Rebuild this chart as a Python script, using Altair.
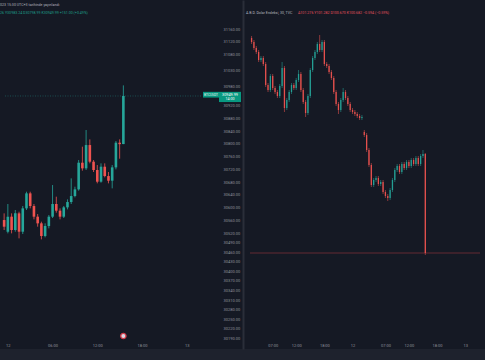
import altair as alt
import pandas as pd

# ---------------- data ----------------
# Left panel: BTCUSDT 30-minute candles, 11 Jul 23:30 -> 12 Jul 15:30 (hours from 12 Jul 00:00)
btc_first_hour = -0.5
bar_step = 0.5
btc_open = [30561.1, 30524.5, 30571.6, 30529.8, 30582.0, 30524.5, 30597.7, 30644.7, 30605.0, 30571.6,
            30550.7, 30510.9, 30542.3, 30571.6, 30611.3, 30590.4, 30571.6, 30600.8, 30617.5, 30636.3,
            30657.2, 30740.8, 30723.1, 30796.2, 30744.0, 30717.9, 30681.3, 30728.3, 30699.0, 30684.4,
            30726.2, 30803.5, 30799.26]
btc_high = [30582.0, 30611.3, 30582.0, 30592.5, 30587.2, 30605.0, 30649.9, 30649.9, 30611.3, 30579.9,
            30555.9, 30550.7, 30576.8, 30670.8, 30634.3, 30597.7, 30605.0, 30625.9, 30691.7, 30665.6,
            30749.2, 30791.0, 30843.3, 30814.0, 30749.2, 30733.5, 30738.8, 30738.8, 30711.6, 30733.5,
            30808.8, 30814.0, 30983.24]
btc_low = [30529.8, 30519.3, 30519.3, 30524.5, 30503.6, 30517.2, 30592.5, 30597.7, 30563.2, 30540.2,
           30500.5, 30506.8, 30535.0, 30567.4, 30584.1, 30563.2, 30567.4, 30594.5, 30611.3, 30632.2,
           30653.1, 30715.8, 30717.9, 30738.8, 30711.6, 30676.1, 30678.1, 30694.9, 30676.1, 30660.4,
           30719.9, 30753.4, 30798.99]
btc_close = [30540.2, 30571.6, 30529.8, 30582.0, 30524.5, 30597.7, 30644.7, 30605.0, 30571.6, 30550.7,
             30510.9, 30542.3, 30571.6, 30611.3, 30590.4, 30571.6, 30600.8, 30617.5, 30636.3, 30657.2,
             30740.8, 30723.1, 30796.2, 30744.0, 30717.9, 30681.3, 30728.3, 30699.0, 30684.4, 30726.2,
             30803.5, 30798.99, 30949.99]

# Right panel: US Dollar Index 30-minute candles, 11 Jul 02:30 -> 12 Jul 15:30
dxy_first_hour = -21.5
dxy_open = [101.972, 101.948, 101.912, 101.888, 101.840, 101.852, 101.816, 101.690, 101.660, 101.744,
            101.672, 101.648, 101.624, 101.684, 101.792, 101.552, 101.600, 101.648, 101.690, 101.672,
            101.720, 101.756, 101.660, 101.588, 101.522, 101.624, 101.780, 101.852, 101.888, 101.936,
            101.900, 101.948, 101.816, 101.804, 101.768, 101.732, 101.648, 101.576, 101.540, 101.600,
            101.648, 101.612, 101.576, 101.540, 101.528, 101.516, 101.504, 101.492, 101.408, 101.390,
            101.300, 101.210, 101.090, 101.120, 101.132, 101.096, 101.108, 101.048, 101.024, 101.012,
            101.060, 101.120, 101.180, 101.204, 101.168, 101.216, 101.192, 101.228, 101.204, 101.240,
            101.216, 101.252, 101.216, 101.264, 101.276]
dxy_high = [101.984, 101.960, 101.924, 101.900, 101.864, 101.864, 101.828, 101.702, 101.756, 101.756,
            101.684, 101.660, 101.696, 101.828, 101.804, 101.612, 101.660, 101.702, 101.702, 101.732,
            101.780, 101.768, 101.672, 101.600, 101.636, 101.792, 101.864, 101.900, 101.948, 101.990,
            101.960, 101.960, 101.828, 101.816, 101.780, 101.744, 101.660, 101.588, 101.612, 101.672,
            101.660, 101.624, 101.588, 101.552, 101.540, 101.528, 101.516, 101.510, 101.420, 101.402,
            101.312, 101.222, 101.132, 101.144, 101.144, 101.120, 101.120, 101.060, 101.036, 101.072,
            101.132, 101.192, 101.216, 101.216, 101.228, 101.228, 101.240, 101.240, 101.252, 101.252,
            101.264, 101.264, 101.276, 101.300, 101.282]
dxy_low = [101.936, 101.900, 101.876, 101.828, 101.828, 101.804, 101.678, 101.648, 101.648, 101.660,
           101.636, 101.612, 101.612, 101.672, 101.528, 101.540, 101.588, 101.636, 101.660, 101.660,
           101.708, 101.648, 101.576, 101.498, 101.510, 101.612, 101.768, 101.840, 101.876, 101.888,
           101.888, 101.804, 101.792, 101.756, 101.720, 101.636, 101.564, 101.516, 101.528, 101.588,
           101.600, 101.564, 101.528, 101.516, 101.504, 101.492, 101.480, 101.480, 101.378, 101.288,
           101.198, 101.078, 101.078, 101.108, 101.084, 101.084, 101.036, 101.012, 100.994, 101.000,
           101.048, 101.108, 101.168, 101.156, 101.156, 101.180, 101.180, 101.192, 101.192, 101.204,
           101.204, 101.204, 101.204, 101.252, 100.670]
dxy_close = [101.948, 101.912, 101.888, 101.840, 101.852, 101.816, 101.690, 101.660, 101.744, 101.672,
             101.648, 101.624, 101.684, 101.792, 101.552, 101.600, 101.648, 101.690, 101.672, 101.720,
             101.756, 101.660, 101.588, 101.522, 101.624, 101.780, 101.852, 101.888, 101.936, 101.900,
             101.948, 101.816, 101.804, 101.768, 101.732, 101.648, 101.576, 101.540, 101.600, 101.648,
             101.612, 101.576, 101.540, 101.528, 101.516, 101.504, 101.492, 101.498, 101.390, 101.300,
             101.210, 101.090, 101.120, 101.132, 101.096, 101.108, 101.048, 101.024, 101.012, 101.060,
             101.120, 101.180, 101.204, 101.168, 101.216, 101.192, 101.228, 101.204, 101.240, 101.216,
             101.252, 101.216, 101.264, 101.276, 100.682]

left_tick_values = [0, 6, 12, 18, 24]
left_tick_labels = ["12", "06:00", "12:00", "18:00", "13"]
right_tick_values = [-17, -12, -6, 0, 7, 12, 18, 24]
right_tick_labels = ["07:00", "12:00", "18:00", "12", "07:00", "12:00", "18:00", "13"]
price_ticks = [31160, 31120, 31080, 31030, 30980, 30920, 30880, 30840, 30800, 30760, 30720, 30680,
               30640, 30600, 30560, 30520, 30490, 30460, 30430, 30400, 30370, 30340, 30310, 30280,
               30250, 30220, 30190]

event_hours = [15.5]          # US CPI release marker
countdown = "14:00"
symbol_name = "BTCUSDT"

left_header_1 = "023 15:30 UTC+3 tarihinde yayınlandı"
left_header_2 = "26  Y30983.24  D30798.99  K30949.99  +151.00 (+0.49%)"
right_header_name = "A.B.D. Dolar Endeksi, 30, TVC"
right_header_vals = "A101.276  Y101.282  D100.670  K100.682  −0.594 (−0.59%)"

# ---------------- styling ----------------
BG = "#151924"
BAR_BG = "#1e222d"
UP = "#26a69a"
DOWN = "#ef5350"
TXT = "#8f929b"
FONT = "Roboto"


def frame(first, o, h, l, c):
    df = pd.DataFrame({"o": o, "h": h, "l": l, "c": c})
    df["t"] = [first + bar_step * i for i in range(len(df))]
    df["dir"] = ["up" if cc >= oo else "down" for oo, cc in zip(o, c)]
    return df


btc = frame(btc_first_hour, btc_open, btc_high, btc_low, btc_close)
dxy = frame(dxy_first_hour, dxy_open, dxy_high, dxy_low, dxy_close)


def label_expr(values, labels):
    parts = [f"datum.value == {v} ? '{s}'" for v, s in zip(values, labels)]
    return " : ".join(parts) + " : ''"


L_XDOM = [-0.383, 26.05]
R_XDOM = [-21.837, 27.143]
L_X = alt.Scale(domain=L_XDOM, range=[0, 207], zero=False, nice=False)
L_Y = alt.Scale(domain=[30190, 31160], range=[338.4, 29], zero=False, nice=False)
R_X = alt.Scale(domain=R_XDOM, range=[245, 485], zero=False, nice=False)
R_Y = alt.Scale(domain=[100.106, 102.2], range=[349, 0], zero=False, nice=False)

axis_common = dict(domain=False, ticks=False, grid=False, labelFontSize=4, labelColor=TXT,
                   labelFont=FONT, labelOverlap=False, labelFlush=False, title=None)
L_X_AXIS = alt.Axis(orient="bottom", offset=-11, values=left_tick_values,
                    labelExpr=label_expr(left_tick_values, left_tick_labels), labelPadding=5, **axis_common)
R_X_AXIS = alt.Axis(orient="bottom", offset=-11, values=right_tick_values,
                    labelExpr=label_expr(right_tick_values, right_tick_labels), labelPadding=5, **axis_common)
L_Y_AXIS = alt.Axis(orient="right", offset=-278, values=price_ticks, format=".2f",
                    labelPadding=16, labelAlign="left", **axis_common)
R_Y_AXIS = alt.Axis(orient="left", offset=-243, domain=True, domainColor="#2a2e39", domainWidth=2,
                    labels=False, ticks=False, grid=False, title=None)

dir_color = alt.Color("dir:N", scale=alt.Scale(domain=["up", "down"], range=[UP, DOWN]), legend=None)

# ---------- left panel ----------
xl = alt.X("t:Q", scale=L_X, axis=L_X_AXIS)
wicks_l = alt.Chart(btc).mark_rule(strokeWidth=0.8).encode(
    x=xl, y=alt.Y("l:Q", scale=L_Y, axis=L_Y_AXIS), y2="h:Q", color=dir_color)
bodies_l = alt.Chart(btc).mark_bar(size=2.6).encode(
    x=xl, y=alt.Y("o:Q", scale=L_Y, axis=L_Y_AXIS), y2="c:Q", color=dir_color)

last_btc = btc_close[-1]
lastL = pd.DataFrame({"t0": [L_XDOM[0]], "t1": [L_XDOM[1]], "p": [last_btc],
                      "ptop": [last_btc + 13], "pbot": [last_btc - 19], "pmid": [last_btc - 5],
                      "price": [f"{last_btc:.2f}"], "cd": [countdown], "sym": [symbol_name]})
price_line = alt.Chart(lastL).mark_rule(color=UP, strokeDash=[1, 1.5], strokeWidth=0.7, opacity=0.55).encode(
    x=alt.X("t0:Q", scale=L_X, axis=L_X_AXIS), x2="t1:Q", y=alt.Y("p:Q", scale=L_Y, axis=L_Y_AXIS))
sym_box = alt.Chart(lastL).mark_rect(color="#089981").encode(
    x=alt.value(203), x2=alt.value(219), y=alt.Y("ptop:Q", scale=L_Y, axis=L_Y_AXIS), y2="pmid:Q")
price_box = alt.Chart(lastL).mark_rect(color="#089981").encode(
    x=alt.value(219), x2=alt.value(241), y=alt.Y("ptop:Q", scale=L_Y, axis=L_Y_AXIS), y2="pbot:Q")
sym_txt = alt.Chart(lastL).mark_text(fontSize=3.2, color="#e8f5f2", font=FONT, dy=-1.0).encode(
    x=alt.value(211), y=alt.Y("p:Q", scale=L_Y, axis=L_Y_AXIS), text="sym:N")
price_txt = alt.Chart(lastL).mark_text(fontSize=3.8, color="#ffffff", font=FONT, dy=-1.2).encode(
    x=alt.value(230), y=alt.Y("p:Q", scale=L_Y, axis=L_Y_AXIS), text="price:N")
cd_txt = alt.Chart(lastL).mark_text(fontSize=3.6, color="#ffffff", font=FONT, dy=3.4).encode(
    x=alt.value(230), y=alt.Y("p:Q", scale=L_Y, axis=L_Y_AXIS), text="cd:N")

events = pd.DataFrame({"t": event_hours})
flag = alt.Chart(events).mark_point(filled=True, size=28, color="#d8dae6", stroke="#d23a48",
                                    strokeWidth=1.3, opacity=1).encode(
    x=alt.X("t:Q", scale=L_X, axis=L_X_AXIS), y=alt.value(336))

left = alt.layer(wicks_l, bodies_l, price_line, sym_box, price_box, sym_txt, price_txt, cd_txt, flag)

# ---------- right panel ----------
xr = alt.X("t:Q", scale=R_X, axis=R_X_AXIS)
wicks_r = alt.Chart(dxy).mark_rule(strokeWidth=0.6, opacity=0.9).encode(
    x=xr, y=alt.Y("l:Q", scale=R_Y, axis=R_Y_AXIS), y2="h:Q", color=dir_color)
bodies_r = alt.Chart(dxy).mark_bar(size=1.3, opacity=0.9).encode(
    x=xr, y=alt.Y("o:Q", scale=R_Y, axis=R_Y_AXIS), y2="c:Q", color=dir_color)
lastR = pd.DataFrame({"t0": [R_XDOM[0]], "t1": [R_XDOM[1]], "p": [dxy_close[-1]]})
last_line_r = alt.Chart(lastR).mark_rule(color="#7a2d37", strokeWidth=0.8).encode(
    x=alt.X("t0:Q", scale=R_X, axis=R_X_AXIS), x2="t1:Q", y=alt.Y("p:Q", scale=R_Y, axis=R_Y_AXIS))

right = alt.layer(last_line_r, wicks_r, bodies_r)

# ---------- headers ----------
hdr = pd.DataFrame({"a": [left_header_1], "b": [left_header_2],
                    "c": [right_header_name], "d": [right_header_vals]})
h1 = alt.Chart(hdr).mark_text(align="left", fontSize=3.6, color="#b2b5be", font=FONT).encode(
    x=alt.value(0), y=alt.value(5), text="a:N")
h2 = alt.Chart(hdr).mark_text(align="left", fontSize=3.6, color="#1e9e89", font=FONT).encode(
    x=alt.value(0), y=alt.value(12.7), text="b:N")
h3 = alt.Chart(hdr).mark_text(align="left", fontSize=3.6, color="#b2b5be", font=FONT).encode(
    x=alt.value(246), y=alt.value(12.5), text="c:N")
h4 = alt.Chart(hdr).mark_text(align="left", fontSize=3.6, color="#e0505c", font=FONT).encode(
    x=alt.value(298), y=alt.value(12.5), text="d:N")

chart = alt.layer(left, right, h1, h2, h3, h4).resolve_scale(
    x="independent", y="independent"
).resolve_axis(x="independent", y="independent").properties(
    width=485, height=349,
    autosize=alt.AutoSizeParams(type="none"),
    padding={"left": 0, "top": 0, "right": 0, "bottom": 11},
    background=BAR_BG,
).configure_view(fill=BG, strokeWidth=0)

chart.save("out.html", embed_options={"renderer": "svg", "actions": False})
